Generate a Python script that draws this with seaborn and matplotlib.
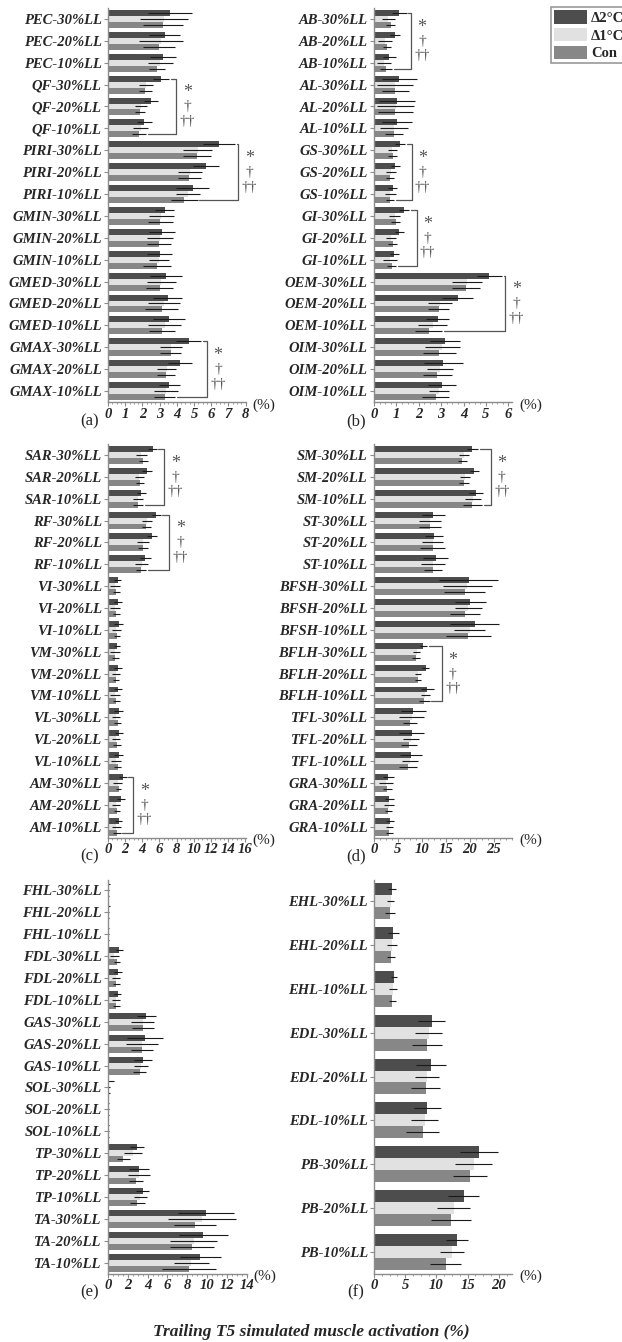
import numpy as np
import pandas as pd
import matplotlib
matplotlib.use("Agg")
import matplotlib.pyplot as plt
from matplotlib.ticker import MultipleLocator, AutoMinorLocator
import seaborn as sns

# conditions / loads
conds = ["Δ2°C", "Δ1°C", "Con"]
loads = ["30%LL", "20%LL", "10%LL"]
colors = ["#4d4d4d", "#e1e1e1", "#878787"]

# ---- (a)
a_muscles = ["PEC", "QF", "PIRI", "GMIN", "GMED", "GMAX"]
a_d2 = [3.61, 3.30, 3.19, 3.09, 2.51, 2.11, 6.45, 5.68, 4.91, 3.30, 3.13, 3.00, 3.36, 3.46, 3.54, 4.68, 4.19, 3.57]
a_d2_err = [1.26, 0.90, 0.75, 0.45, 0.39, 0.45, 0.95, 0.77, 0.94, 0.55, 0.75, 0.72, 0.92, 0.86, 0.92, 0.73, 0.70, 0.60]
a_d1 = [3.27, 3.10, 3.05, 2.20, 1.92, 1.90, 5.20, 4.77, 4.64, 3.10, 3.00, 2.94, 3.10, 3.25, 3.30, 3.65, 3.40, 3.36]
a_d1_err = [1.40, 1.27, 0.70, 0.42, 0.34, 0.45, 0.84, 0.68, 0.68, 0.74, 0.75, 0.58, 0.85, 0.95, 0.95, 0.63, 0.56, 0.69]
a_con = [3.19, 2.98, 2.84, 2.16, 1.87, 1.80, 5.16, 4.73, 4.44, 3.05, 2.96, 2.84, 3.00, 3.11, 3.13, 3.65, 3.36, 3.29]
a_con_err = [1.14, 0.92, 0.48, 0.38, 0.29, 0.42, 0.81, 0.66, 0.77, 0.70, 0.72, 0.80, 0.77, 0.94, 0.77, 0.60, 0.53, 0.63]
a_brackets = [("QF", 3.96), ("PIRI", 7.57), ("GMAX", 5.74)]

# ---- (b)
b_muscles = ["AB", "AL", "GS", "GI", "OEM", "OIM"]
b_d2 = [1.13, 0.94, 0.68, 1.13, 1.04, 1.01, 1.16, 0.94, 0.83, 1.34, 1.13, 0.91, 5.15, 3.74, 2.84, 3.17, 3.10, 3.05]
b_d2_err = [0.33, 0.24, 0.29, 0.78, 0.81, 0.67, 0.22, 0.20, 0.20, 0.22, 0.19, 0.20, 0.56, 0.69, 0.52, 0.68, 0.89, 0.63]
b_d1 = [0.64, 0.49, 0.45, 0.94, 0.97, 0.91, 0.82, 0.76, 0.73, 0.92, 0.76, 0.70, 4.14, 2.95, 2.63, 3.05, 2.93, 2.90]
b_d1_err = [0.30, 0.33, 0.33, 0.79, 0.83, 0.62, 0.19, 0.21, 0.25, 0.24, 0.22, 0.31, 0.67, 0.52, 0.65, 0.78, 0.58, 0.45]
b_con = [0.74, 0.60, 0.54, 0.94, 0.94, 0.89, 0.83, 0.71, 0.71, 0.97, 0.83, 0.79, 4.09, 2.90, 2.44, 2.92, 2.83, 2.75]
b_con_err = [0.20, 0.18, 0.28, 0.60, 0.78, 0.41, 0.19, 0.19, 0.19, 0.20, 0.19, 0.21, 0.63, 0.47, 0.61, 0.74, 0.65, 0.60]
b_brackets = [("AB", 1.65), ("GS", 1.68), ("GI", 1.90), ("OEM", 5.86)]

# ---- (c)
c_muscles = ["SAR", "RF", "VI", "VM", "VL", "AM"]
c_d2 = [5.19, 4.53, 3.88, 5.62, 5.12, 4.34, 1.12, 1.16, 1.24, 1.05, 1.16, 1.16, 1.24, 1.24, 1.24, 1.74, 1.51, 1.24]
c_d2_err = [0.50, 0.58, 0.52, 0.52, 0.58, 0.66, 0.43, 0.48, 0.50, 0.35, 0.48, 0.44, 0.50, 0.48, 0.54, 0.45, 0.42, 0.39]
c_d1 = [3.90, 3.67, 3.55, 4.50, 4.05, 3.94, 0.77, 0.85, 0.97, 0.81, 0.93, 0.85, 0.93, 0.93, 0.97, 1.12, 0.89, 0.97]
c_d1_err = [0.60, 0.50, 0.58, 0.58, 0.68, 0.77, 0.58, 0.58, 0.52, 0.54, 0.48, 0.58, 0.48, 0.48, 0.58, 0.48, 0.48, 0.52]
c_con = [4.13, 3.75, 3.55, 4.44, 4.05, 3.86, 0.97, 0.97, 1.04, 0.85, 0.93, 0.97, 1.12, 1.04, 1.12, 1.24, 1.04, 1.04]
c_con_err = [0.50, 0.46, 0.58, 0.52, 0.60, 0.58, 0.42, 0.40, 0.39, 0.40, 0.39, 0.42, 0.42, 0.42, 0.42, 0.33, 0.35, 0.42]
c_brackets = [("SAR", 6.56), ("RF", 7.14), ("AM", 2.97)]

# ---- (d)
d_muscles = ["SM", "ST", "BFSH", "BFLH", "TFL", "GRA"]
d_d2 = [20.5, 20.9, 21.25, 12.36, 12.57, 12.85, 19.7, 20.1, 20.97, 10.28, 10.76, 11.1, 8.2, 7.85, 7.7, 3.0, 3.2, 3.33]
d_d2_err = [1.2, 1.0, 1.5, 2.4, 1.9, 2.67, 6.1, 3.3, 5.1, 0.76, 0.76, 1.3, 2.6, 2.6, 2.26, 1.1, 0.94, 0.83]
d_d1 = [18.75, 19.0, 20.6, 11.7, 12.2, 12.3, 19.4, 19.65, 19.9, 8.9, 9.1, 10.7, 7.85, 7.8, 7.5, 2.5, 3.1, 3.2]
d_d1_err = [1.0, 1.0, 1.67, 2.26, 2.2, 2.5, 5.1, 2.8, 3.2, 0.7, 0.6, 1.0, 2.6, 1.67, 1.6, 1.4, 1.0, 0.7]
d_con = [18.4, 18.8, 20.5, 11.67, 12.2, 12.3, 18.9, 18.96, 19.65, 8.75, 9.1, 10.5, 7.5, 7.36, 7.15, 2.78, 3.0, 3.2]
d_con_err = [1.0, 1.0, 2.0, 2.36, 2.6, 1.8, 4.3, 3.1, 4.65, 0.87, 0.66, 1.1, 1.5, 1.7, 1.9, 0.87, 0.76, 0.8]
d_brackets = [("SM", 24.3), ("BFLH", 14.1)]

# ---- (e)
e_muscles = ["FHL", "FDL", "GAS", "SOL", "TP", "TA"]
e_d2 = [0.08, 0.06, 0.05, 1.14, 1.0, 0.97, 3.87, 3.76, 3.53, 0.1, 0.05, 0.05, 2.92, 3.17, 3.5, 9.9, 9.63, 9.33]
e_d2_err = [0.12, 0.1, 0.08, 0.34, 0.37, 0.37, 0.97, 1.8, 0.92, 0.55, 0.1, 0.08, 0.74, 1.0, 0.67, 2.83, 2.47, 2.1]
e_d1 = [0.05, 0.05, 0.04, 0.64, 0.81, 0.81, 3.5, 3.46, 3.3, 0.05, 0.04, 0.04, 2.5, 3.15, 3.27, 9.5, 8.65, 8.4]
e_d1_err = [0.1, 0.08, 0.06, 0.42, 0.42, 0.42, 1.16, 1.63, 0.72, 0.15, 0.08, 0.06, 0.92, 1.1, 0.62, 3.4, 2.4, 1.75]
e_con = [0.05, 0.04, 0.04, 0.91, 0.84, 0.84, 3.53, 3.43, 3.19, 0.05, 0.04, 0.04, 1.55, 2.84, 2.97, 8.8, 8.47, 8.17]
e_con_err = [0.1, 0.08, 0.06, 0.3, 0.34, 0.35, 1.1, 1.07, 0.62, 0.12, 0.08, 0.06, 0.65, 0.67, 0.75, 2.15, 2.25, 2.75]
e_brackets = []

# ---- (f)
f_muscles = ["EHL", "EDL", "PB"]
f_d2 = [2.93, 3.09, 3.25, 9.23, 9.12, 8.53, 16.85, 14.4, 13.28]
f_d2_err = [0.67, 0.85, 0.48, 2.13, 2.4, 2.2, 3.0, 2.48, 1.7]
f_d1 = [2.67, 2.83, 3.09, 8.75, 8.48, 8.1, 15.95, 12.75, 12.53]
f_d1_err = [0.53, 0.8, 0.64, 2.2, 1.92, 2.18, 3.0, 2.6, 1.9]
f_con = [2.56, 2.72, 2.93, 8.43, 8.27, 7.79, 15.3, 12.32, 11.47]
f_con_err = [0.77, 0.67, 0.53, 2.4, 2.27, 2.6, 2.72, 3.15, 2.48]
f_brackets = []

sns.set_style("ticks")
plt.rcParams["font.family"] = ["Liberation Serif", "DejaVu Serif"]

W, H = 622, 1342
fig = plt.figure(figsize=(W / 100, H / 100), dpi=100)


def rect(x0, x1, ytop, ybot):
    return [x0 / W, 1 - ybot / H, (x1 - x0) / W, (ybot - ytop) / H]


def draw_panel(ax, muscles, vals, errs, xmax, step, brackets):
    labels = [f"{m}-{l}" for m in muscles for l in loads]
    df = pd.DataFrame({
        "label": labels * 3,
        "cond": np.repeat(conds, len(labels)),
        "value": vals[0] + vals[1] + vals[2],
    })
    sns.barplot(data=df, y="label", x="value", hue="cond", order=labels,
                hue_order=conds, palette=colors, saturation=1, errorbar=None,
                width=0.82, linewidth=0, orient="h", legend=False, ax=ax)
    bars = [list(c) for c in ax.containers]
    for bs, v, e in zip(bars, vals, errs):
        ys = [b.get_y() + b.get_height() / 2 for b in bs]
        ax.errorbar(v, ys, xerr=e, fmt="none", ecolor="#1a1a1a",
                    elinewidth=0.8, capsize=0)

    # significance brackets
    pad = xmax * 0.012
    for name, xb in brackets:
        g = muscles.index(name) * 3
        t, b = bars[0][g], bars[2][g + 2]
        y0 = t.get_y() + t.get_height() / 2
        y1 = b.get_y() + b.get_height() / 2
        x0 = vals[0][g] + errs[0][g] + pad
        x1 = vals[2][g + 2] + errs[2][g + 2] + pad
        ax.plot([x0, xb, xb, x1], [y0, y0, y1, y1], color="#555555",
                lw=0.9, clip_on=False)
        for sym, dy, fs in zip(["*", "†", "††"], [-0.62, 0.02, 0.68], [13, 11, 11]):
            ax.annotate(sym, (xb, g + 1 + dy), xytext=(8, 0),
                        textcoords="offset points", ha="center", va="center",
                        fontsize=fs, color="#555555")

    # keep categorical limits after errorbar autoscaling
    ax.set_ylim(len(labels) - 0.5, -0.5)
    ax.set_xlim(0, xmax)
    ax.set_xlabel("")
    ax.set_ylabel("")
    ax.xaxis.set_major_locator(MultipleLocator(step))
    ax.xaxis.set_minor_locator(AutoMinorLocator(4))
    sns.despine(ax=ax)
    for s in ["left", "bottom"]:
        ax.spines[s].set_color("#8c8c8c")
        ax.spines[s].set_linewidth(1)
    ax.tick_params(axis="y", length=3, width=0.8, color="#8c8c8c", pad=1.5, labelsize=10.5)
    ax.tick_params(axis="x", which="major", length=3, width=0.8, color="#8c8c8c", pad=1.2, labelsize=10.5)
    ax.tick_params(axis="x", which="minor", length=1.5, width=0.6, color="#8c8c8c")
    for lab in ax.get_xticklabels() + ax.get_yticklabels():
        lab.set_fontweight("bold")
        lab.set_fontstyle("italic")


panels = [
    ("(a)", rect(108, 245.7, 8, 402), a_muscles, (a_d2, a_d1, a_con), (a_d2_err, a_d1_err, a_con_err), 8.0, 1, a_brackets),
    ("(b)", rect(374, 512, 8, 402), b_muscles, (b_d2, b_d1, b_con), (b_d2_err, b_d1_err, b_con_err), 6.16, 1, b_brackets),
    ("(c)", rect(108, 245.7, 444, 837.6), c_muscles, (c_d2, c_d1, c_con), (c_d2_err, c_d1_err, c_con_err), 16.05, 2, c_brackets),
    ("(d)", rect(374, 512, 444, 837.6), d_muscles, (d_d2, d_d1, d_con), (d_d2_err, d_d1_err, d_con_err), 28.75, 5, d_brackets),
    ("(e)", rect(108, 246.7, 879.5, 1273.5), e_muscles, (e_d2, e_d1, e_con), (e_d2_err, e_d1_err, e_con_err), 14.0, 2, e_brackets),
    ("(f)", rect(374, 512, 879.5, 1273.5), f_muscles, (f_d2, f_d1, f_con), (f_d2_err, f_d1_err, f_con_err), 22.1, 5, f_brackets),
]

for tag, r, muscles, vals, errs, xmax, step, brackets in panels:
    ax = fig.add_axes(r)
    draw_panel(ax, muscles, vals, errs, xmax, step, brackets)
    # "(%)" unit at axis end and panel tag below y labels
    right_px = (r[0] + r[2]) * W
    bottom_px = (1 - r[1]) * H
    left_px = r[0] * W
    fig.text((right_px + 7) / W, 1 - (bottom_px + 3) / H, "(%)",
             ha="left", va="center", fontsize=11)
    fig.text((left_px - 18) / W, 1 - (bottom_px + 19) / H, tag,
             ha="center", va="center", fontsize=12)

# legend (partly cut off at right edge like the original)
handles = [plt.Rectangle((0, 0), 1, 1, facecolor=c, edgecolor="none") for c in colors]
leg = fig.legend(handles, conds, loc="upper left",
                 bbox_to_anchor=(551 / W, 1 - 7 / H), frameon=True,
                 fancybox=False, framealpha=1, edgecolor="#999999",
                 prop={"weight": "bold", "size": 10.5},
                 handlelength=2.26, handleheight=1.05, labelspacing=0.2,
                 handletextpad=0.25, borderpad=0.22, borderaxespad=0)
leg.get_frame().set_linewidth(1.2)

fig.text(0.5, 1 - 1332 / H, "Trailing T5 simulated muscle activation (%)",
         ha="center", va="center", fontsize=12.5, fontweight="bold",
         fontstyle="italic")

fig.savefig("out.png", dpi=100)
